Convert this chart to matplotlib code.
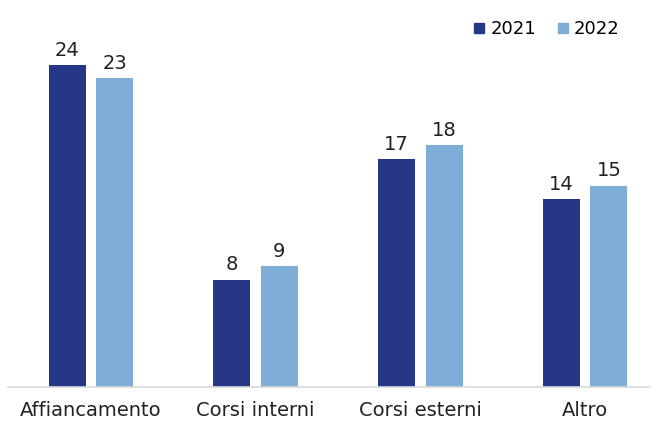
import numpy as np
import matplotlib.pyplot as plt
from matplotlib.lines import Line2D

categorie = ['Affiancamento', 'Corsi interni', 'Corsi esterni', 'Altro']
valori_2021 = [24, 8, 17, 14]
valori_2022 = [23, 9, 18, 15]
anni = ['2021', '2022']

colore_2021 = '#253786'
colore_2022 = '#7eadd7'

plt.rcParams['font.family'] = ['DejaVu Sans']

fig = plt.figure(figsize=(6.55, 4.21), dpi=100)
ax = fig.add_axes([8 / 655, 34 / 421, 642 / 655, 387 / 421])

x = np.arange(len(categorie))
larghezza = 0.224
offset = 0.144

b1 = ax.bar(x - offset, valori_2021, larghezza, color=colore_2021)
b2 = ax.bar(x + offset, valori_2022, larghezza, color=colore_2022)

for barre, valori in ((b1, valori_2021), (b2, valori_2022)):
    for b, v in zip(barre, valori):
        ax.text(b.get_x() + b.get_width() / 2, v + 0.4, str(v),
                ha='center', va='bottom', fontsize=14, color='#222222')

ax.set_xlim(-0.503, 3.394)
ax.set_ylim(0, 28.84)
ax.set_xticks(x)
ax.set_xticklabels(categorie, fontsize=14, color='#222222')
ax.tick_params(axis='x', length=0, pad=10)
ax.set_yticks([])
for lato in ('top', 'right', 'left'):
    ax.spines[lato].set_visible(False)
ax.spines['bottom'].set_color('#d9d9d9')
ax.spines['bottom'].set_linewidth(1.2)

handles = [Line2D([], [], marker='s', linestyle='none', markersize=7.5,
                  color=c) for c in (colore_2021, colore_2022)]
ax.legend(handles, anni, loc='upper right', bbox_to_anchor=(0.975, 0.985),
          ncol=2, frameon=False, fontsize=13, handletextpad=0.2,
          columnspacing=1.1, handlelength=0.8, borderaxespad=0.4)

fig.savefig('out.png', dpi=100)
